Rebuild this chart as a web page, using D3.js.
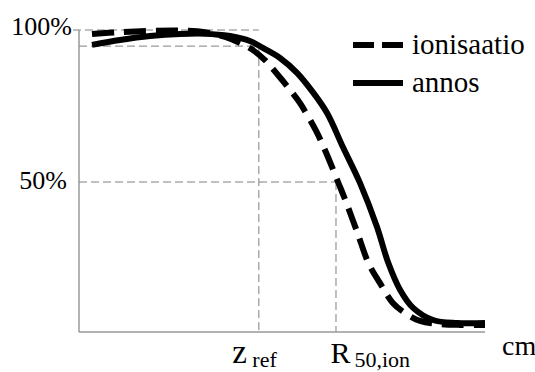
<!DOCTYPE html>
<html>
<head>
<meta charset="utf-8">
<script src="https://cdn.jsdelivr.net/npm/d3@7"></script>
<style>
html,body{margin:0;padding:0;background:#fff;}
svg{display:block;}
</style>
</head>
<body>
<svg id="chart" width="535" height="372"></svg>
<script>
// ---- data ----
const seriesNames = ["ionisaatio", "annos"];
const depthIon = [0.32,1.01,1.75,2.49,3.10,3.60,3.97,4.24,4.58,4.90,5.20,5.44,5.84,6.11,6.38,6.55,6.85,7.14,7.41,7.73,8.03,8.40,8.89,9.38,10.0];
const valueIon = [98.7,99.3,99.7,99.8,99.3,97.7,95.7,93.8,90.1,85.2,80.3,76.0,66.8,58.9,50.0,44.4,33.6,23.0,16.8,10.2,6.9,4.3,3.3,3.0,3.0];
const depthDose = [0.32,1.01,1.75,2.49,3.10,3.72,4.21,4.53,4.95,5.37,5.74,6.11,6.50,6.92,7.34,7.61,7.91,8.23,8.72,9.31,10.0];
const valueDose = [95.1,96.7,98.0,98.7,98.8,98.0,96.4,94.1,90.8,85.9,79.9,72.7,61.5,49.7,35.2,23.7,14.5,8.6,4.6,3.6,3.6];
const yTickValues = [50, 100];
const yTickLabels = ["50%", "100%"];
const xMarkValues = [4.43, 6.33];           // z_ref, R50,ion
const xMarkMain = ["z", "R"];
const xMarkSub = ["ref", "50,ion"];
const refLevel = 94.7;                      // level of horizontal guide to z_ref
const xUnit = "cm";

// ---- layout ----
const FONT = "'Liberation Serif', serif";
const BASE = 22; // render glyphs at this size, scale up with a transform
function serifText(parent, tx, ty, size, str, anchor) {
  return parent.append("text")
    .attr("transform", `translate(${tx},${ty}) scale(${size / BASE})`)
    .attr("font-size", BASE).style("font-family", FONT)
    .attr("text-anchor", anchor || "start").attr("fill", "#000").text(str);
}

const svg = d3.select("#chart");
const x = d3.scaleLinear().domain([0, 10]).range([79, 485]);
const y = d3.scaleLinear().domain([0, 100]).range([334, 30]);
const axisY0 = 332;

// guide lines (thin gray dashed)
const guide = svg.append("g").attr("stroke", "#808080").attr("stroke-width", 1)
  .attr("stroke-dasharray", "8,4").attr("fill", "none");
guide.append("line").attr("x1", x(0) - 6).attr("x2", x(xMarkValues[0]))
  .attr("y1", y(100)).attr("y2", y(100));
guide.append("line").attr("x1", x(0)).attr("x2", x(xMarkValues[0]))
  .attr("y1", y(refLevel)).attr("y2", y(refLevel));
guide.append("line").attr("x1", x(0)).attr("x2", x(xMarkValues[1]))
  .attr("y1", y(50)).attr("y2", y(50));
guide.append("line").attr("x1", x(xMarkValues[0])).attr("x2", x(xMarkValues[0]))
  .attr("y1", y(refLevel)).attr("y2", axisY0);
guide.append("line").attr("x1", x(xMarkValues[1])).attr("x2", x(xMarkValues[1]))
  .attr("y1", y(50)).attr("y2", axisY0);

// axes lines
svg.append("line").attr("x1", x(0)).attr("x2", x(0)).attr("y1", y(100)).attr("y2", axisY0)
  .attr("stroke", "#999").attr("stroke-width", 1.5);
svg.append("line").attr("x1", x(0)).attr("x2", x(10)).attr("y1", axisY0).attr("y2", axisY0)
  .attr("stroke", "#999").attr("stroke-width", 1.5);

// y axis ticks through d3 axis, labels drawn in serif
const yAxis = d3.axisLeft(y).tickValues(yTickValues).tickSize(0).tickFormat("");
const gy = svg.append("g").attr("transform", `translate(${x(0)},0)`).call(yAxis);
gy.select(".domain").remove();
const yLabelShift = [[-12, 6], [-7, 4]];
gy.selectAll(".tick").each(function(d, i) {
  serifText(d3.select(this), yLabelShift[i][0], yLabelShift[i][1], 26, yTickLabels[i], "end");
});

// x axis labels with subscripts
const xAxis = d3.axisBottom(x).tickValues(xMarkValues).tickSize(0).tickFormat("");
const gx = svg.append("g").attr("transform", `translate(0,${axisY0})`).call(xAxis);
gx.select(".domain").remove();
const labelOffsets = [-27, -6];
const subOffsets = [20, 24];
gx.selectAll(".tick").each(function(d, i) {
  const g = d3.select(this);
  serifText(g, labelOffsets[i], 31, i === 0 ? 33 : 30, xMarkMain[i]);
  serifText(g, labelOffsets[i] + subOffsets[i], 35, 22, xMarkSub[i]);
});
serifText(svg, 502, 355, 28, xUnit);

// curves
const line = d3.line().x(d => x(d[0])).y(d => y(d[1])).curve(d3.curveCatmullRom.alpha(0.5));
const ionData = depthIon.map((d, i) => [d, valueIon[i]]);
const doseData = depthDose.map((d, i) => [d, valueDose[i]]);
svg.append("path").datum(doseData).attr("d", line).attr("fill", "none")
  .attr("stroke", "#000").attr("stroke-width", 6);
svg.append("path").datum(ionData).attr("d", line).attr("fill", "none")
  .attr("stroke", "#000").attr("stroke-width", 6).attr("stroke-dasharray", "22,10");

// legend
const leg = svg.append("g");
const legY = [45, 83];
seriesNames.forEach((name, i) => {
  leg.append("line").attr("x1", 353).attr("x2", 403).attr("y1", legY[i]).attr("y2", legY[i])
    .attr("stroke", "#000").attr("stroke-width", 6)
    .attr("stroke-dasharray", i === 0 ? "21,8" : null);
  serifText(leg, 412, legY[i] + 9, 29, name);
});
</script>
</body>
</html>
